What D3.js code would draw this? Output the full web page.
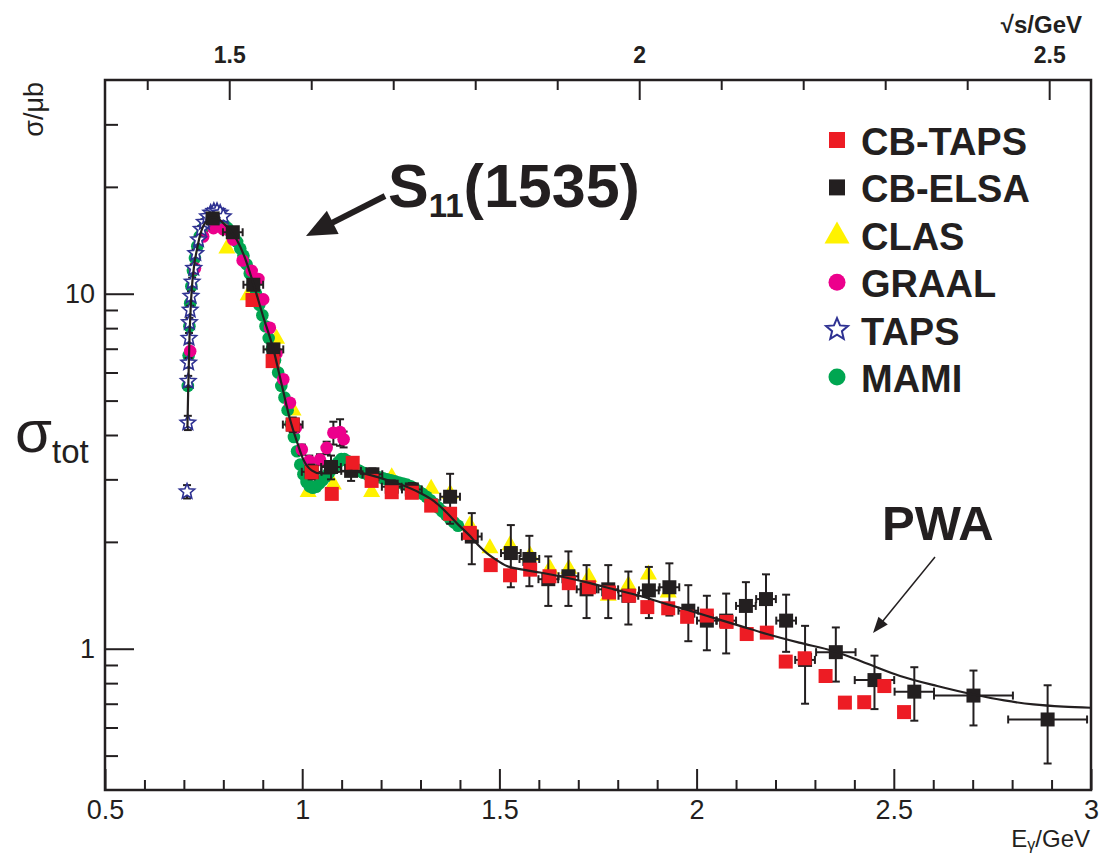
<!DOCTYPE html>
<html>
<head>
<meta charset="utf-8">
<script src="https://cdn.jsdelivr.net/npm/d3@7"></script>
<style>
  body { margin: 0; background: #fff; }
  svg { display: block; }
  text { font-family: "Liberation Sans", Arial, Helvetica, sans-serif; fill: #231f20; }
</style>
</head>
<body>
<svg id="chart" width="1113" height="854"></svg>
<script>
// ---- Total eta photoproduction cross section: measured data sets and PWA ----
// photon energy in GeV, cross section in microbarn

const cbTapsE = [0.874,0.925,0.976,1.024,1.075,1.128,1.176,1.227,1.278,1.327,1.375,1.425,1.478,1.527,1.578,1.627,1.676,1.727,1.778,1.829,1.875,1.928,1.976,2.026,2.076,2.127,2.178,2.226,2.274,2.327,2.376,2.425,2.476,2.526];
const cbTapsSigma = [9.60,6.46,4.28,3.14,2.73,3.34,2.97,2.76,2.75,2.53,2.40,2.12,1.72,1.61,1.67,1.60,1.53,1.49,1.44,1.41,1.31,1.30,1.23,1.24,1.19,1.10,1.11,0.92,0.94,0.838,0.705,0.707,0.785,0.663];

const cbElsaE = [0.773,0.824,0.876,0.927,0.976,1.024,1.073,1.124,1.178,1.227,1.278,1.375,1.430,1.529,1.576,1.624,1.675,1.721,1.776,1.827,1.879,1.931,1.979,2.026,2.075,2.125,2.176,2.227,2.275,2.353,2.451,2.552,2.702,2.890];
const cbElsaSigma = [16.3,14.9,10.6,6.97,4.28,3.15,3.25,3.17,3.10,2.86,2.81,2.68,2.07,1.86,1.79,1.57,1.60,1.47,1.47,1.41,1.46,1.49,1.28,1.20,1.20,1.32,1.38,1.20,0.93,0.978,0.816,0.757,0.738,0.632];
const cbElsaErrSigma = [0.35,0.35,0.30,0.25,0.20,0.15,0.25,0.20,0.12,0.12,0.12,0.43,0.34,0.37,0.29,0.25,0.28,0.25,0.25,0.24,0.24,0.25,0.23,0.21,0.23,0.22,0.24,0.22,0.23,0.17,0.14,0.13,0.13,0.157];
const cbElsaErrE = [0.015,0.025,0.025,0.025,0.025,0.025,0.025,0.025,0.025,0.025,0.025,0.025,0.025,0.025,0.025,0.025,0.025,0.025,0.025,0.025,0.025,0.025,0.025,0.025,0.025,0.025,0.025,0.025,0.025,0.05,0.05,0.05,0.1,0.1];

const clasE = [0.809,0.863,0.935,0.977,1.015,1.079,1.176,1.227,1.327,1.375,1.425,1.476,1.527,1.578,1.628,1.676,1.727,1.776,1.827,1.878,1.928];
const clasSigma = [13.5,9.96,7.52,4.72,2.78,2.92,2.78,3.06,2.84,2.75,2.24,1.93,1.97,1.84,1.69,1.69,1.60,1.42,1.52,1.63,1.45];

const graalE = [0.716,0.728,0.749,0.775,0.800,0.825,0.849,0.872,0.889,0.901,0.918,0.935,0.952,0.969,0.984,0.999,1.018,1.045,1.062,1.079,1.096,1.105];
const graalSigma = [6.89,11.8,14.5,15.3,15.2,14.2,12.4,11.6,11.0,9.64,8.02,6.8,5.74,4.93,4.2,3.64,3.38,3.41,3.68,4.06,4.08,3.89];
const graalErrSigma = [0.15,0.2,0.2,0.2,0.2,0.2,0.2,0.2,0.2,0.15,0.15,0.15,0.15,0.12,0.12,0.12,0.12,0.12,0.15,0.30,0.35,0.20];

const tapsE = [0.708,0.710,0.711,0.712,0.713,0.714,0.716,0.718,0.721,0.725,0.730,0.737,0.744,0.752,0.760,0.768,0.776,0.784,0.792,0.800];
const tapsSigma = [2.77,4.33,5.67,6.39,7.5,8.3,9.0,9.85,10.8,11.8,13.0,14.2,15.2,15.9,16.5,16.9,17.1,17.1,16.9,16.5];
const tapsErrSigma = [0.12,0.2,0.2,0.2,0.25,0.25,0.25,0.3,0.3,0.3,0.3,0.3,0.3,0.3,0.3,0.3,0.3,0.3,0.3,0.3];

const mamiE = [0.710,0.712,0.714,0.716,0.719,0.723,0.728,0.734,0.740,0.747,0.755,0.763,0.771,0.779,0.787,0.795,0.803,0.811,0.819,0.827,0.835,0.843,0.851,0.859,0.867,0.875,0.883,0.891,0.899,0.907,0.915,0.923,0.931,0.939,0.947,0.955,0.963,0.971,0.979,0.987,0.995,1.003,1.011,1.019,1.027,1.035,1.043,1.051,1.059,1.067,1.075,1.083,1.091,1.099,1.107,1.115,1.125,1.135,1.145,1.155,1.165,1.175,1.185,1.195,1.205,1.215,1.225,1.235,1.245,1.255,1.265,1.275,1.285,1.295,1.305,1.315,1.325,1.335,1.345,1.355,1.365,1.375,1.385,1.395];
const mamiSigma = [5.5,6.7,8.1,9.4,10.5,11.6,12.6,13.6,14.5,15.2,15.8,16.1,16.3,16.3,16.1,15.9,15.6,15.3,14.9,14.5,14.0,13.4,12.8,12.1,11.4,10.7,10.0,9.3,8.7,8.1,7.5,7.0,6.5,6.0,5.5,5.1,4.7,4.3,3.95,3.6,3.3,3.1,2.95,2.87,2.84,2.86,2.92,2.98,3.05,3.12,3.20,3.27,3.35,3.42,3.42,3.38,3.28,3.22,3.17,3.13,3.10,3.08,3.06,3.04,3.02,3.00,2.98,2.96,2.94,2.92,2.90,2.87,2.83,2.78,2.73,2.68,2.62,2.56,2.50,2.44,2.38,2.32,2.27,2.22];

const pwaE = [0.709,0.711,0.714,0.717,0.720,0.726,0.733,0.741,0.749,0.760,0.773,0.786,0.800,0.817,0.834,0.855,0.876,0.900,0.927,0.948,0.969,0.986,1.003,1.024,1.045,1.075,1.100,1.125,1.155,1.197,1.250,1.298,1.335,1.366,1.395,1.425,1.446,1.468,1.492,1.519,1.560,1.603,1.665,1.730,1.790,1.855,1.920,1.983,2.045,2.110,2.178,2.260,2.347,2.430,2.516,2.610,2.702,2.780,2.854,2.930,3.000];
const pwaSigma = [4.2,5.4,7.4,9.0,10.3,12.0,13.3,14.6,15.5,16.1,16.4,16.3,15.8,15.1,14.2,12.6,10.7,8.7,6.97,5.55,4.43,3.85,3.41,3.18,3.12,3.12,3.16,3.17,3.12,3.03,2.90,2.75,2.60,2.42,2.24,2.08,1.96,1.86,1.78,1.71,1.67,1.64,1.59,1.53,1.47,1.41,1.34,1.28,1.22,1.16,1.10,1.04,0.985,0.91,0.838,0.785,0.743,0.715,0.697,0.687,0.682];

// axes: ticks and labels
const xMajor = [0.5, 1, 1.5, 2, 2.5, 3];
const xTickLabels = ["0.5", "1", "1.5", "2", "2.5", "3"];
const xMinor = [0.6,0.7,0.8,0.9,1.1,1.2,1.3,1.4,1.6,1.7,1.8,1.9,2.1,2.2,2.3,2.4,2.6,2.7,2.8,2.9];
const yMajor = [1, 10];
const yTickLabels = ["1", "10"];
const yMinor = [0.5,0.6,0.7,0.8,0.9,2,3,4,5,6,7,8,9,20,30];
const topMajor = [1.5, 2, 2.5];
const topTickLabels = ["1.5", "2", "2.5"];
const topMinor = [1.4,1.6,1.7,1.8,1.9,2.1,2.2,2.3,2.4];

const legendLabels = ["CB-TAPS", "CB-ELSA", "CLAS", "GRAAL", "TAPS", "MAMI"];

// ---- colours ----
const RED = "#ed1c24", BLACK = "#231f20", YELLOW = "#fff200", MAGENTA = "#ec008c", BLUE = "#2e3192", GREEN = "#00a651";

// ---- scales ----
const L = 105, R = 1091, T = 80, B = 790;
const x = d3.scaleLinear().domain([0.5, 3]).range([L, R]);
const y = d3.scaleLog().domain([0.4, 40]).range([B, T]);
// sqrt(s) axis on top, linear between the values at E = 0.5 and E = 3 GeV
const xTop = d3.scaleLinear().domain([1.3485, 2.551]).range([L, R]);

const svg = d3.select("#chart");
svg.append("rect").attr("width", 1113).attr("height", 854).attr("fill", "#fff");

svg.append("clipPath").attr("id", "plotArea")
  .append("rect").attr("x", L).attr("y", T).attr("width", R - L).attr("height", B - T);

// ---- marker shapes ----
function squarePath(s) { const h = s / 2; return `M${-h},${-h}H${h}V${h}H${-h}Z`; }
function trianglePath(w, h) { return `M0,${-h * 0.6}L${w / 2},${h * 0.4}L${-w / 2},${h * 0.4}Z`; }
function circlePath(r) { return `M${r},0A${r},${r} 0 1,1 ${-r},0A${r},${r} 0 1,1 ${r},0Z`; }
function starPath(ro) {
  const ri = ro * 0.45, pts = [];
  for (let i = 0; i < 10; i++) {
    const a = -Math.PI / 2 + i * Math.PI / 5, rr = i % 2 ? ri : ro;
    pts.push([rr * Math.cos(a), rr * Math.sin(a)]);
  }
  return "M" + pts.map(p => p[0].toFixed(2) + "," + p[1].toFixed(2)).join("L") + "Z";
}

const plot = svg.append("g").attr("clip-path", "url(#plotArea)");

function drawMarkers(cls, E, S, d, fill, stroke, sw) {
  plot.append("g").attr("class", cls)
    .selectAll("path").data(d3.zip(E, S)).join("path")
    .attr("transform", p => `translate(${x(p[0])},${y(p[1])})`)
    .attr("d", d)
    .attr("fill", fill)
    .attr("stroke", stroke || "none")
    .attr("stroke-width", sw || 0);
}

function drawErrorBars(cls, E, S, dS, dE) {
  const g = plot.append("g").attr("class", cls)
    .attr("stroke", BLACK).attr("stroke-width", 2).attr("fill", "none");
  const rows = E.map((e, i) => ({ e, s: S[i], ds: dS ? dS[i] : 0, de: dE ? dE[i] : 0 }));
  const cap = 4;
  rows.forEach(r => {
    const cx = x(r.e), cy = y(r.s);
    if (r.ds > 0) {
      const y0 = y(r.s - r.ds), y1 = y(r.s + r.ds);
      g.append("line").attr("x1", cx).attr("x2", cx).attr("y1", y0).attr("y2", y1);
      g.append("line").attr("x1", cx - cap).attr("x2", cx + cap).attr("y1", y0).attr("y2", y0);
      g.append("line").attr("x1", cx - cap).attr("x2", cx + cap).attr("y1", y1).attr("y2", y1);
    }
    if (r.de > 0) {
      const x0 = x(r.e - r.de), x1 = x(r.e + r.de);
      g.append("line").attr("x1", x0).attr("x2", x1).attr("y1", cy).attr("y2", cy);
      g.append("line").attr("x1", x0).attr("x2", x0).attr("y1", cy - cap).attr("y2", cy + cap);
      g.append("line").attr("x1", x1).attr("x2", x1).attr("y1", cy - cap).attr("y2", cy + cap);
    }
  });
}

// drawing order: CLAS, MAMI, GRAAL, TAPS, CB-ELSA, CB-TAPS, PWA curve
drawMarkers("clas", clasE, clasSigma, trianglePath(17, 15), YELLOW);
drawMarkers("mami", mamiE, mamiSigma, circlePath(6.3), GREEN);
drawErrorBars("graal-err", graalE, graalSigma, graalErrSigma, null);
drawMarkers("graal", graalE, graalSigma, circlePath(6.3), MAGENTA);
drawErrorBars("taps-err", tapsE, tapsSigma, tapsErrSigma, null);
drawMarkers("taps", tapsE, tapsSigma, starPath(8), "#fff", BLUE, 1.6);
drawErrorBars("elsa-err", cbElsaE, cbElsaSigma, cbElsaErrSigma, cbElsaErrE);
drawMarkers("elsa", cbElsaE, cbElsaSigma, squarePath(14), BLACK);
drawMarkers("cbtaps", cbTapsE, cbTapsSigma, squarePath(14), RED);

const pwaLine = d3.line()
  .x(d => x(d[0])).y(d => y(d[1]))
  .curve(d3.curveMonotoneX);
plot.append("path").attr("class", "pwa")
  .datum(d3.zip(pwaE, pwaSigma))
  .attr("d", pwaLine)
  .attr("fill", "none").attr("stroke", BLACK).attr("stroke-width", 2.2);

// ---- axes ----
function styleAxis(g, fontSize, weight) {
  g.select(".domain").remove();
  g.selectAll(".tick line").attr("stroke", BLACK).attr("stroke-width", 2);
  g.selectAll(".tick text")
    .style("font-family", '"Liberation Sans", Arial, Helvetica, sans-serif')
    .attr("font-size", fontSize).attr("font-weight", weight || "normal").attr("fill", BLACK);
}
// left (log) axis
styleAxis(svg.append("g").attr("transform", `translate(${L},0)`)
  .call(d3.axisLeft(y).tickValues(yMajor).tickFormat((d, i) => yTickLabels[i]).tickSize(-29).tickPadding(10)), 27);
styleAxis(svg.append("g").attr("transform", `translate(${L},0)`)
  .call(d3.axisLeft(y).tickValues(yMinor).tickFormat("").tickSize(-13)), 27);
// bottom axis
styleAxis(svg.append("g").attr("transform", `translate(0,${B})`)
  .call(d3.axisBottom(x).tickValues(xMajor).tickFormat((d, i) => xTickLabels[i]).tickSize(-21).tickPadding(10)), 27);
styleAxis(svg.append("g").attr("transform", `translate(0,${B})`)
  .call(d3.axisBottom(x).tickValues(xMinor).tickFormat("").tickSize(-10)), 27);
// top axis in sqrt(s)
styleAxis(svg.append("g").attr("transform", `translate(0,${T})`)
  .call(d3.axisTop(xTop).tickValues(topMajor).tickFormat((d, i) => topTickLabels[i]).tickSize(-20).tickPadding(17)), 23, "bold");
styleAxis(svg.append("g").attr("transform", `translate(0,${T})`)
  .call(d3.axisTop(xTop).tickValues(topMinor).tickFormat("").tickSize(-10)), 23);

// frame
svg.append("rect").attr("x", L).attr("y", T).attr("width", R - L).attr("height", B - T)
  .attr("fill", "none").attr("stroke", BLACK).attr("stroke-width", 2.5);

// ---- axis titles ----
svg.append("text").attr("transform", "translate(43,82) rotate(-90)")
  .attr("text-anchor", "end").attr("font-size", 27).text("σ/μb");

const sig = svg.append("text").attr("x", 15).attr("y", 452).attr("font-size", 60).text("σ");
sig.append("tspan").attr("font-size", 33).attr("dy", 11).text("tot");

const ex = svg.append("text").attr("x", 1090).attr("y", 847).attr("text-anchor", "end").attr("font-size", 24).text("E");
ex.append("tspan").attr("font-size", 16).attr("dy", 3).text("γ");
ex.append("tspan").attr("dy", -3).text("/GeV");

svg.append("text").attr("x", 1082).attr("y", 33).attr("text-anchor", "end")
  .attr("font-size", 24).attr("font-weight", "bold").text("√s/GeV");

// ---- legend ----
const legendMarkers = [
  { d: squarePath(16), fill: RED },
  { d: squarePath(16), fill: BLACK },
  { d: trianglePath(25, 22), fill: YELLOW },
  { d: circlePath(8.5), fill: MAGENTA },
  { d: starPath(11.5), fill: "#fff", stroke: BLUE, sw: 2 },
  { d: circlePath(8.5), fill: GREEN }
];
const legend = svg.append("g").attr("class", "legend");
const rows = legend.selectAll("g").data(legendLabels).join("g")
  .attr("transform", (d, i) => `translate(0,${155 + i * 47.4})`);
rows.append("path")
  .attr("transform", "translate(837,-15)")
  .attr("d", (d, i) => legendMarkers[i].d)
  .attr("fill", (d, i) => legendMarkers[i].fill)
  .attr("stroke", (d, i) => legendMarkers[i].stroke || "none")
  .attr("stroke-width", (d, i) => legendMarkers[i].sw || 0);
rows.append("text").attr("x", 861).attr("y", 0)
  .attr("font-size", 38).attr("font-weight", "bold").text(d => d);

// ---- annotations ----
function arrow(x0, y0, x1, y1, width, headLen, headHalf) {
  const dx = x1 - x0, dy = y1 - y0, len = Math.hypot(dx, dy);
  const ux = dx / len, uy = dy / len;
  const bx = x1 - ux * headLen, by = y1 - uy * headLen;
  svg.append("line").attr("x1", x0).attr("y1", y0).attr("x2", bx + ux * 2).attr("y2", by + uy * 2)
    .attr("stroke", BLACK).attr("stroke-width", width);
  svg.append("path")
    .attr("d", `M${x1},${y1}L${bx - uy * headHalf},${by + ux * headHalf}L${bx + uy * headHalf},${by - ux * headHalf}Z`)
    .attr("fill", BLACK);
}

const s11 = svg.append("text").attr("x", 388).attr("y", 207).attr("font-size", 61).attr("font-weight", "bold").text("S");
s11.append("tspan").attr("font-size", 33).attr("dy", 10).text("11");
s11.append("tspan").attr("dy", -10).text("(1535)");
arrow(385, 196, 306, 236, 6, 30, 13);

svg.append("text").attr("x", 882).attr("y", 540).attr("font-size", 49).attr("font-weight", "bold").text("PWA");
arrow(935, 557, 873, 633, 1.5, 16, 6);
</script>
</body>
</html>
